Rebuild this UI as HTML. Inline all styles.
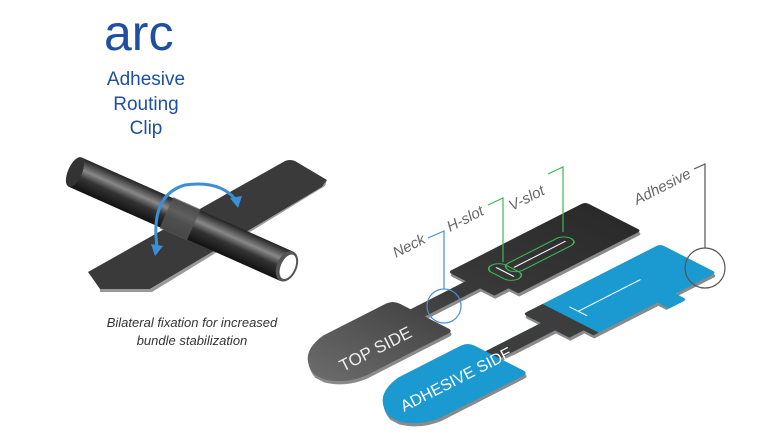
<!DOCTYPE html>
<html><head><style>
body{margin:0;background:#fff;width:777px;height:440px;overflow:hidden;font-family:"Liberation Sans",sans-serif}
</style></head><body>
<svg width="777" height="440" viewBox="0 0 777 440" xmlns="http://www.w3.org/2000/svg">
<defs>
<linearGradient id="tube" x1="0" y1="0" x2="0" y2="1">
<stop offset="0" stop-color="#222"/><stop offset="0.35" stop-color="#888"/><stop offset="0.6" stop-color="#333"/><stop offset="1" stop-color="#111"/>
</linearGradient>
<linearGradient id="dk" x1="0" y1="0" x2="1" y2="0">
<stop offset="0" stop-color="#6a6a6a"/><stop offset="0.5" stop-color="#3a3a3a"/><stop offset="1" stop-color="#2a2a2a"/>
</linearGradient>
</defs>
<text x="104" y="50" font-size="50" fill="#1f4fa0">arc</text>
<g font-size="19" fill="#1f4fa0" text-anchor="middle">
<text x="146" y="85">Adhesive</text><text x="146" y="110">Routing</text><text x="146" y="134">Clip</text>
</g>
<path d="M88,272 L120,254 L285,161 Q290,159 295,161 L327,180 L322,187 L150,289 L100,289 Z" fill="#3a3a3a"/>
<path d="M150,289 L322,187 L327,180 L325,186 L152,292 L100,292 L100,289 Z" fill="#999"/>
<g transform="translate(75,172) rotate(24)">
<rect x="0" y="-16" width="232" height="32" fill="url(#tube)"/>
<ellipse cx="0" cy="0" rx="7" ry="16" fill="#333"/>
<rect x="100" y="-17" width="30" height="34" fill="#555" opacity="0.8"/>
<ellipse cx="232" cy="0" rx="10" ry="16" fill="#555"/>
<ellipse cx="233" cy="0" rx="7" ry="13" fill="#fff"/>
</g>
<path d="M157,247 Q150,195 185,185 Q220,180 236,200" fill="none" stroke="#3b8fd6" stroke-width="3"/>
<polygon points="230,198 242,196 238,208" fill="#3b8fd6"/>
<polygon points="151,244 163,246 155,256" fill="#3b8fd6"/>
<g font-size="13" font-style="italic" fill="#333" text-anchor="middle">
<text x="192" y="327">Bilateral fixation for increased</text><text x="192" y="345">bundle stabilization</text>
</g>

<g transform="matrix(0.891,-0.454,0.891,0.454,448,272)">
<g transform="translate(-3,4)" fill="#8a8a8a">
<path d="M4,0 L150,0 Q154,0 154,4 L154,59 Q154,63 150,63 L16,63 L16,52 L0,52 L0,36 L-62,36 L-62,62 Q-62,68 -68,68 L-160,68 Q-182,66 -188,48 L-188,38 Q-175,6 -140,0 L-70,0 Q-62,0 -62,8 L-62,20 L0,20 L0,4 Q0,0 4,0 Z"/>
</g>
<path d="M4,0 L150,0 Q154,0 154,4 L154,59 Q154,63 150,63 L16,63 L16,52 L0,52 L0,36 L-62,36 L-62,62 Q-62,68 -68,68 L-160,68 Q-182,66 -188,48 L-188,38 Q-175,6 -140,0 L-70,0 Q-62,0 -62,8 L-62,20 L0,20 L0,4 Q0,0 4,0 Z" fill="url(#dk)"/>
<rect x="36" y="24" width="70" height="16" rx="8" fill="none" stroke="#3cb85a" stroke-width="1.3"/>
<line x1="42" y1="32" x2="100" y2="32" stroke="#fff" stroke-width="1.3"/>
<rect x="24" y="17" width="16" height="30" rx="8" fill="none" stroke="#3cb85a" stroke-width="1.3"/>
<line x1="32" y1="22" x2="32" y2="42" stroke="#fff" stroke-width="1.3"/>
</g>
<text transform="translate(343,372) rotate(-27)" font-size="17" fill="#eee">TOP SIDE</text>

<g transform="matrix(0.891,-0.454,0.891,0.454,523,314)">
<g transform="translate(-3,4)" fill="#8a8a8a">
<path d="M4,0 L150,0 Q154,0 154,4 L154,59 Q154,63 150,63 L108,63 L108,72 L88,72 L88,63 L16,63 L16,52 L0,52 L0,36 L-62,36 L-62,62 Q-62,68 -68,68 L-160,68 Q-182,66 -188,48 L-188,38 Q-175,6 -140,0 L-70,0 Q-62,0 -62,8 L-62,20 L0,20 L0,4 Q0,0 4,0 Z"/>
</g>
<path d="M4,0 L150,0 Q154,0 154,4 L154,59 Q154,63 150,63 L108,63 L108,72 Q108,76 104,76 L88,76 L88,63 L16,63 L16,52 L0,52 L0,36 L-62,36 L-62,62 Q-62,68 -68,68 L-160,68 Q-182,66 -188,48 L-188,38 Q-175,6 -140,0 L-70,0 Q-62,0 -62,8 L-62,20 L0,20 L0,4 Q0,0 4,0 Z" fill="#1a9ad0"/>
<path d="M4,0 L22,0 L22,63 L16,63 L16,52 L0,52 L0,36 L-62,36 L-62,20 L0,20 L0,4 Q0,0 4,0 Z" fill="#3d3d3d"/>
<line x1="34" y1="28" x2="104" y2="28" stroke="#fff" stroke-width="1.3"/>
<line x1="34" y1="18" x2="34" y2="38" stroke="#fff" stroke-width="1.3"/>
</g>
<text transform="translate(404,412) rotate(-27)" font-size="16" fill="#fff">ADHESIVE SIDE</text>

<g font-size="15" font-style="italic" fill="#666">
<text transform="translate(396,258) rotate(-27)">Neck</text>
<text transform="translate(450,232) rotate(-27)">H-slot</text>
<text transform="translate(512,211) rotate(-27)">V-slot</text>
<text transform="translate(637,205) rotate(-27)">Adhesive</text>
</g>
<circle cx="444" cy="306" r="17" fill="none" stroke="#4a8fd8" stroke-width="1.2"/>
<polyline points="428,238 444,231 444,289" fill="none" stroke="#4a8fd8" stroke-width="1.2"/>
<polyline points="488,205 503,198 503,262" fill="none" stroke="#3cb85a" stroke-width="1.2"/>
<polyline points="548,174 563,167 563,232" fill="none" stroke="#3cb85a" stroke-width="1.2"/>
<polyline points="694,169 705,164 705,248" fill="none" stroke="#555" stroke-width="1.2"/>
<circle cx="705" cy="268" r="20" fill="none" stroke="#555" stroke-width="1.2"/>
</svg>
</body></html>
